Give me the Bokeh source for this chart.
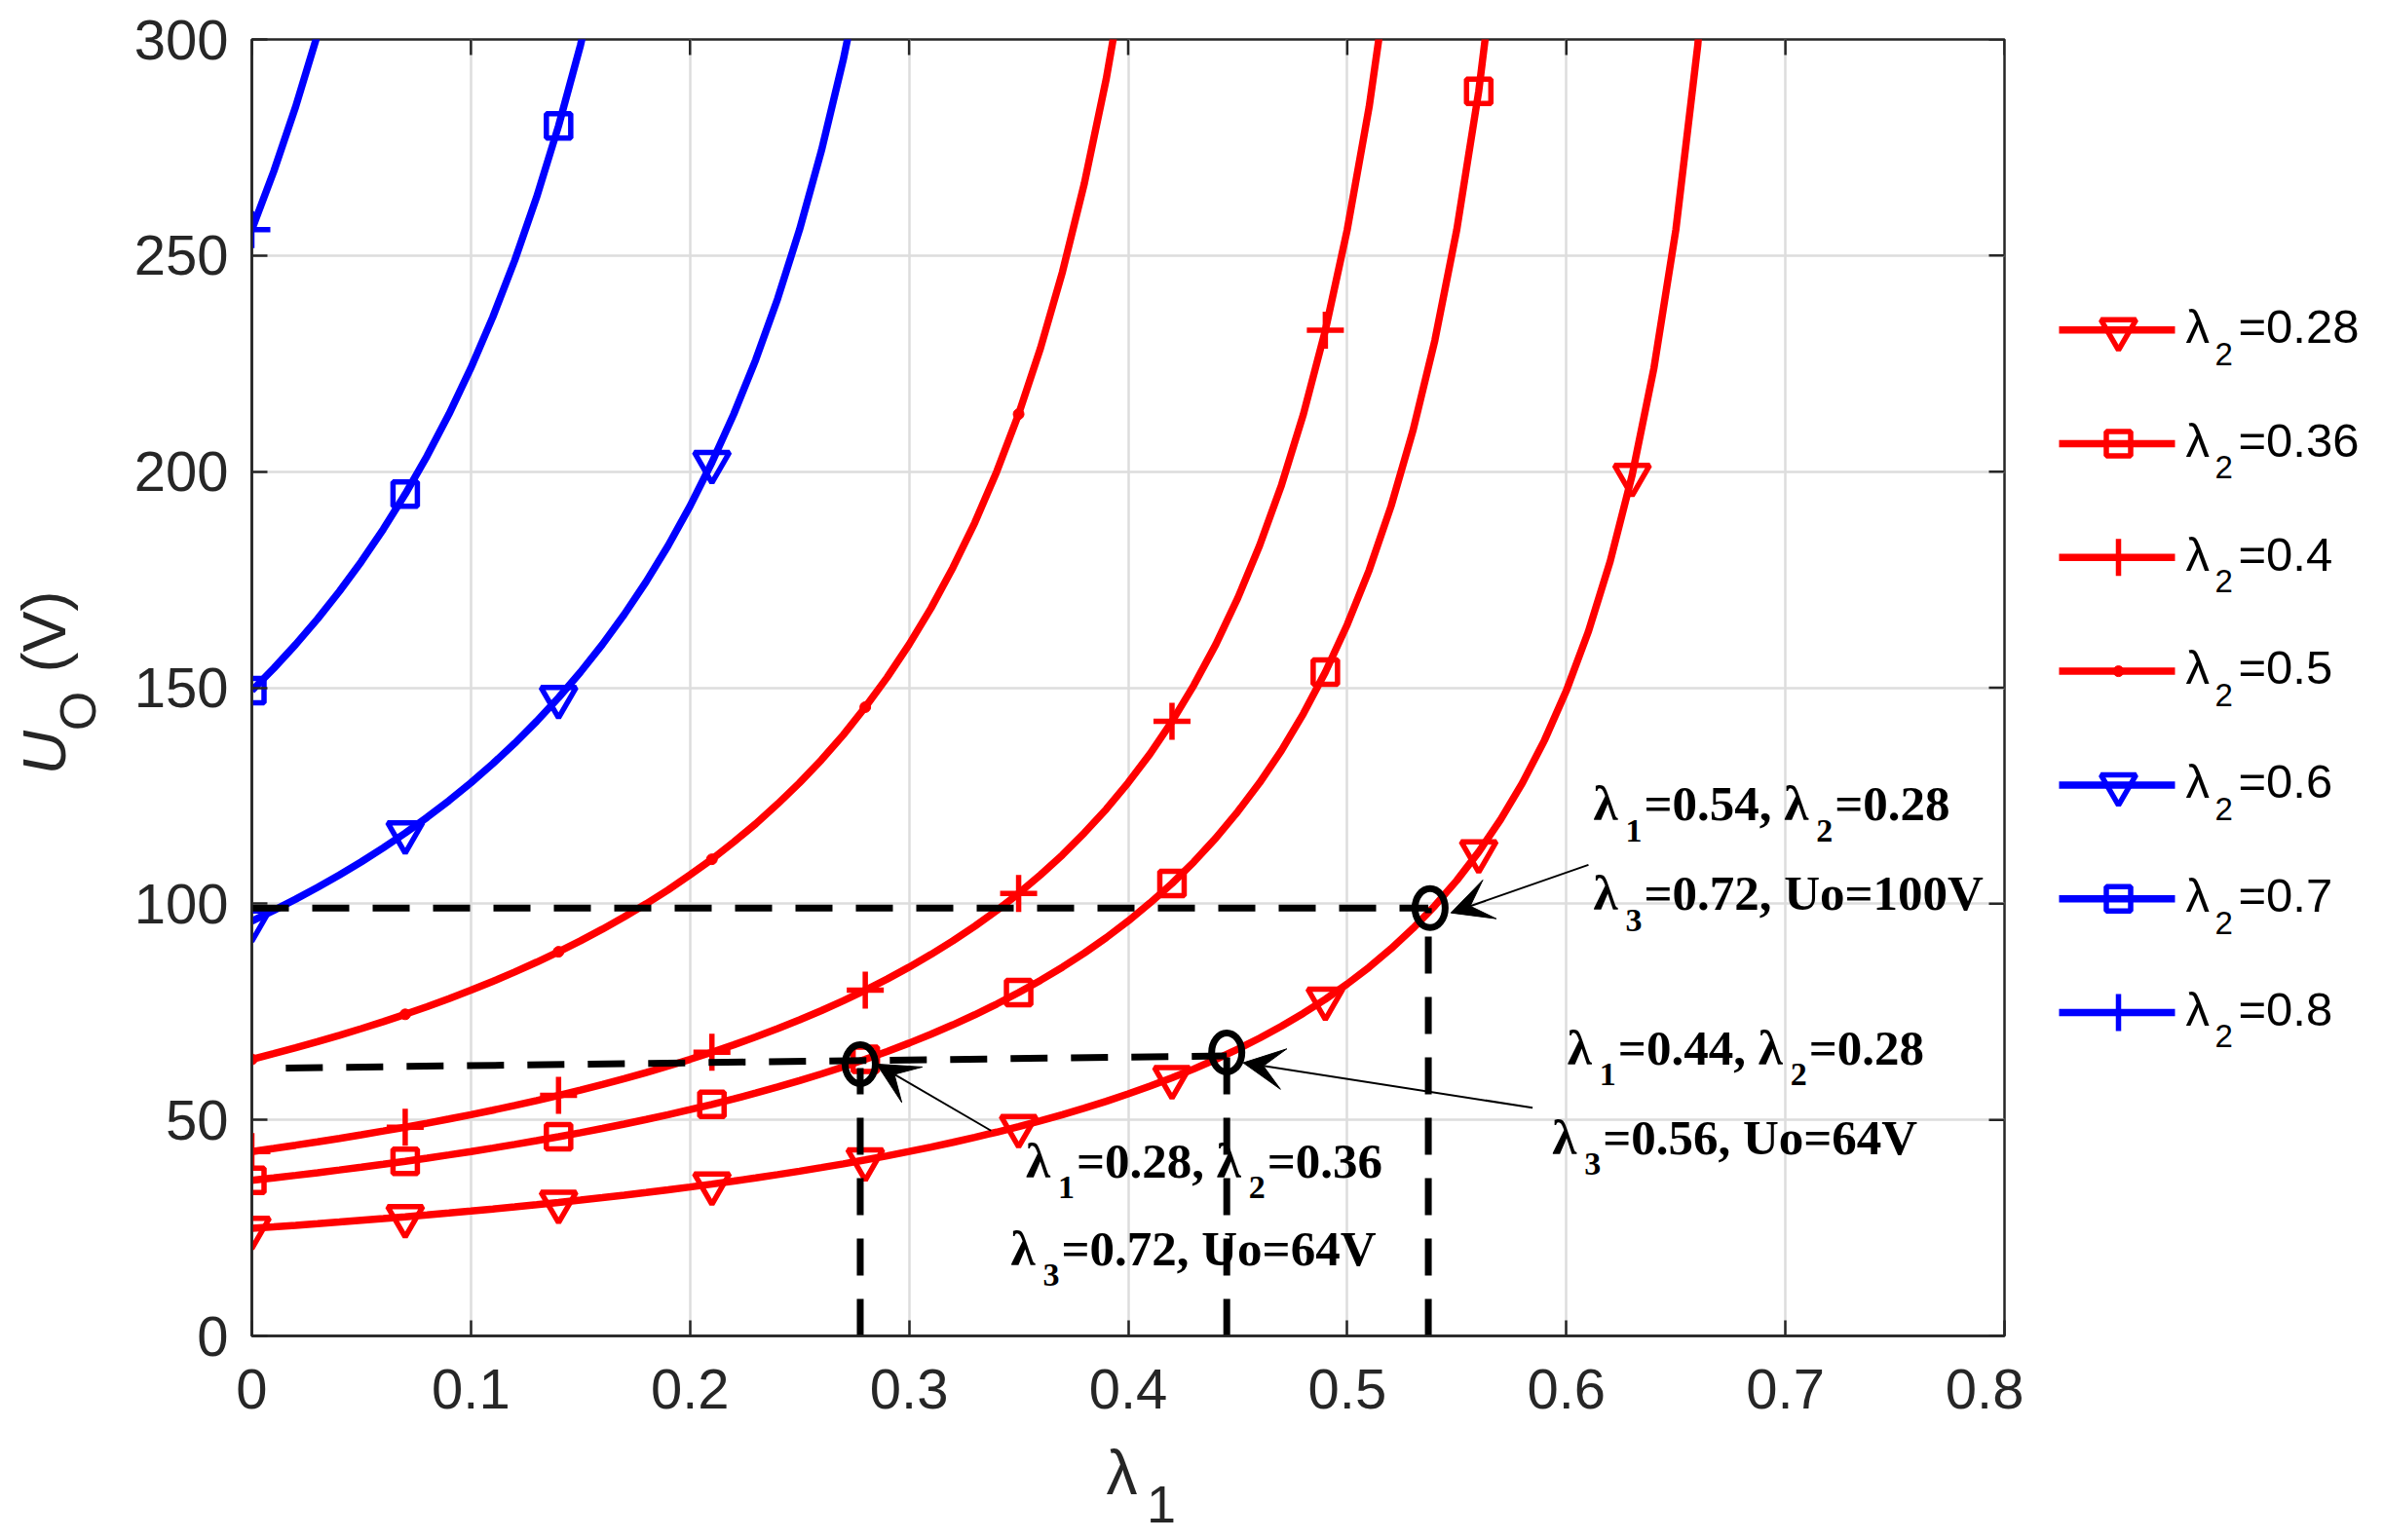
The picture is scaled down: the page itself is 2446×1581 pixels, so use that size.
import math
from bokeh.plotting import figure
from bokeh.models import (Range1d, FixedTicker, NumeralTickFormatter, Arrow, VeeHead,
                          ColumnDataSource)
from bokeh.layouts import gridplot
from bokeh.embed import file_html
from bokeh.resources import INLINE
from bokeh.core.properties import value

# ---------------- data ----------------
lam1 = [0.00, 0.01, 0.02, 0.03, 0.04, 0.05, 0.06, 0.07, 0.08, 0.09,
        0.10, 0.11, 0.12, 0.13, 0.14, 0.15, 0.16, 0.17, 0.18, 0.19,
        0.20, 0.21, 0.22, 0.23, 0.24, 0.25, 0.26, 0.27, 0.28, 0.29,
        0.30, 0.31, 0.32, 0.33, 0.34, 0.35, 0.36, 0.37, 0.38, 0.39,
        0.40, 0.41, 0.42, 0.43, 0.44, 0.45, 0.46, 0.47, 0.48, 0.49,
        0.50, 0.51, 0.52, 0.53, 0.54, 0.55, 0.56, 0.57, 0.58, 0.59,
        0.60, 0.61, 0.62, 0.63, 0.64, 0.65, 0.66, 0.67]

u_028 = [24.89, 25.24, 25.60, 25.97, 26.35, 26.75, 27.15, 27.57, 28.00, 28.44,
         28.90, 29.38, 29.87, 30.37, 30.90, 31.44, 32.00, 32.58, 33.19, 33.81,
         34.46, 35.14, 35.84, 36.57, 37.33, 38.13, 38.96, 39.82, 40.73, 41.67,
         42.67, 43.71, 44.80, 45.95, 47.16, 48.43, 49.78, 51.20, 52.71, 54.30,
         56.00, 57.81, 59.73, 61.79, 64.00, 66.37, 68.92, 71.68, 74.67, 77.91,
         81.45, 85.33, 89.60, 94.32, 99.56, 105.4, 112.0, 119.5, 128.0, 137.8,
         149.3, 162.9, 179.2, 199.1, 224.0, 256.0, 298.7, 358.4]
u_036 = [36.00, 36.57, 37.16, 37.77, 38.40, 39.05, 39.72, 40.42, 41.14, 41.89,
         42.67, 43.47, 44.31, 45.18, 46.08, 47.02, 48.00, 49.02, 50.09, 51.20,
         52.36, 53.58, 54.86, 56.20, 57.60, 59.08, 60.63, 62.27, 64.00, 65.83,
         67.76, 69.82, 72.00, 74.32, 76.80, 79.45, 82.29, 85.33, 88.62, 92.16,
         96.00, 100.2, 104.7, 109.7, 115.2, 121.3, 128.0, 135.5, 144.0, 153.6,
         164.6, 177.2, 192.0, 209.5, 230.4, 256.0, 288.0, 329.1]
u_040 = [42.67, 43.39, 44.14, 44.91, 45.71, 46.55, 47.41, 48.30, 49.23, 50.20,
         51.20, 52.24, 53.33, 54.47, 55.65, 56.89, 58.18, 59.53, 60.95, 62.44,
         64.00, 65.64, 67.37, 69.19, 71.11, 73.14, 75.29, 77.58, 80.00, 82.58,
         85.33, 88.28, 91.43, 94.81, 98.46, 102.4, 106.7, 111.3, 116.4, 121.9,
         128.0, 134.7, 142.2, 150.6, 160.0, 170.7, 182.9, 196.9, 213.3, 232.7,
         256.0, 284.4, 320.0]
u_050 = [64.00, 65.31, 66.67, 68.09, 69.57, 71.11, 72.73, 74.42, 76.19, 78.05,
         80.00, 82.05, 84.21, 86.49, 88.89, 91.43, 94.12, 96.97, 100.0, 103.2,
         106.7, 110.3, 114.3, 118.5, 123.1, 128.0, 133.3, 139.1, 145.5, 152.4,
         160.0, 168.4, 177.8, 188.2, 200.0, 213.3, 228.6, 246.2, 266.7, 290.9,
         320.0]
u_060 = [96.00, 98.46, 101.05, 103.78, 106.67, 109.71, 112.94, 116.36, 120.0, 123.87,
         128.0, 132.41, 137.14, 142.22, 147.69, 153.6, 160.0, 166.96, 174.55, 182.86,
         192.0, 202.11, 213.33, 225.88, 240.0, 256.0, 274.29, 295.38, 320.0]
u_070 = [149.33, 154.48, 160.0, 165.93, 172.31, 179.2, 186.67, 194.78, 203.64, 213.33,
         224.0, 235.79, 248.89, 263.53, 280.0, 298.67, 320.0]
u_080 = [256.0, 269.47, 284.44, 301.18]

mk_x = [0.00, 0.07, 0.14, 0.21, 0.28, 0.35, 0.42, 0.49, 0.56, 0.63]
mk_028 = [24.89, 27.57, 30.90, 35.14, 40.73, 48.43, 59.73, 77.91, 112.0, 199.1]
mk_036 = [36.00, 40.42, 46.08, 53.58, 64.00, 79.45, 104.7, 153.6, 288.0]
mk_040 = [42.67, 48.30, 55.65, 65.64, 80.00, 102.4, 142.2, 232.7]
mk_050 = [64.00, 74.42, 88.89, 110.3, 145.5, 213.3]
mk_060 = [96.00, 116.4, 147.7, 202.1]
mk_070 = [149.3, 194.8, 280.0]
mk_080 = [256.0]

series_names = ["0.28", "0.36", "0.4", "0.5", "0.6", "0.7", "0.8"]
series_lines = [u_028, u_036, u_040, u_050, u_060, u_070, u_080]
series_marks = [mk_028, mk_036, mk_040, mk_050, mk_060, mk_070, mk_080]
series_colors = ["#ff0000", "#ff0000", "#ff0000", "#ff0000", "#0000ff", "#0000ff", "#0000ff"]
series_markers = ["inverted_triangle", "square", "cross", "point",
                  "inverted_triangle", "square", "cross"]

# operating points (circles), guide lines and arrows
op_x = [0.2777, 0.445, 0.5378]
op_y = [62.9, 65.6, 99.0]
vguide_x = [0.2777, 0.445, 0.537]
vguide_top = [62.0, 65.0, 99.0]
hguide_x0 = [0.0, 0.0155]
hguide_x1 = [0.537, 0.445]
hguide_y0 = [99.0, 62.0]
hguide_y1 = [99.0, 64.8]
arrow_x0 = [0.3374, 0.5846, 0.6101]
arrow_y0 = [47.5, 52.8, 109.0]
arrow_x1 = [0.2852, 0.4525, 0.5473]
arrow_y1 = [62.9, 63.2, 97.9]

ann_segments = [
    [("λ", 0), ("1", 1), ("=0.28, ", 0), ("λ", 0), ("2", 1), ("=0.36", 0)],
    [("λ", 0), ("3", 1), ("=0.72, Uo=64V", 0)],
    [("λ", 0), ("1", 1), ("=0.54, ", 0), ("λ", 0), ("2", 1), ("=0.28", 0)],
    [("λ", 0), ("3", 1), ("=0.72, Uo=100V", 0)],
    [("λ", 0), ("1", 1), ("=0.44, ", 0), ("λ", 0), ("2", 1), ("=0.28", 0)],
    [("λ", 0), ("3", 1), ("=0.56, Uo=64V", 0)],
]
ann_x = [0.3533, 0.3464, 0.6123, 0.6123, 0.6005, 0.5935]
ann_y = [36.8, 16.6, 119.4, 98.7, 63.0, 42.3]

x_ticks = [0.0, 0.1, 0.2, 0.3, 0.4, 0.5, 0.6, 0.7, 0.8]
y_ticks = [0, 50, 100, 150, 200, 250, 300]

# ---------------- style / geometry ----------------
AX = "#262626"
SANS = "Liberation Sans"
SERIF = "Liberation Serif"
MK_SIZE = {"inverted_triangle": 36, "square": 25, "cross": 38, "point": 11}
LINE_W = 7.5
MK_LW = 5.5
BASE_FIX = 0.32          # baseline correction (fraction of font size)
B_LEFT, B_RIGHT, B_TOP, B_BOTTOM = 130, 20, 40, 102
FRAME_W, FRAME_H = 1799, 1331
MAIN_W = B_LEFT + FRAME_W + B_RIGHT
MAIN_H = B_TOP + FRAME_H + B_BOTTOM
YLAB_W, LEG_W = 128, 353
XLAB_H = 1580 - MAIN_H


def plain_fig(**kw):
    f = figure(output_backend="svg", toolbar_location=None, x_axis_type=None,
               y_axis_type=None, **kw)
    f.outline_line_color = None
    f.background_fill_color = "white"
    f.border_fill_color = "white"
    return f


# ---------------- main plot ----------------
p = figure(width=MAIN_W, height=MAIN_H, x_range=Range1d(0, 0.8), y_range=Range1d(0, 300),
           output_backend="svg", toolbar_location=None,
           min_border_left=B_LEFT, min_border_right=B_RIGHT,
           min_border_top=B_TOP, min_border_bottom=B_BOTTOM)
p.background_fill_color = "white"
p.border_fill_color = "white"
p.outline_line_color = AX
p.outline_line_width = 2.5

for ax, ticks in ((p.xaxis[0], x_ticks), (p.yaxis[0], y_ticks)):
    ax.axis_label = None
    ax.ticker = FixedTicker(ticks=ticks)
    ax.major_label_text_font = SANS
    ax.major_label_text_font_size = "58px"
    ax.major_label_text_color = AX
    ax.major_tick_in = 16
    ax.major_tick_out = 0
    ax.major_tick_line_width = 2.5
    ax.major_tick_line_color = AX
    ax.minor_tick_line_color = None
    ax.axis_line_color = AX
    ax.axis_line_width = 2.5
p.xaxis[0].formatter = NumeralTickFormatter(format="0.[0]")
p.xaxis[0].major_label_standoff = 34
p.yaxis[0].major_label_standoff = 24

p.xgrid.ticker = FixedTicker(ticks=x_ticks)
p.ygrid.ticker = FixedTicker(ticks=y_ticks)
for g in (p.xgrid, p.ygrid):
    g.grid_line_color = "#dddddd"
    g.grid_line_width = 2.5

# inward ticks on the top and right edges of the box
p.ray(x=x_ticks, y=[300] * len(x_ticks), length=16, length_units="screen",
      angle=-math.pi / 2, line_color=AX, line_width=2.5)
p.ray(x=[0.8] * len(y_ticks), y=y_ticks, length=16, length_units="screen",
      angle=math.pi, line_color=AX, line_width=2.5)


def draw_marker(fig, xs, ys, mk, col):
    if mk == "point":
        fig.scatter(xs, ys, marker="circle", size=MK_SIZE[mk], line_color=col,
                    fill_color=col, line_width=1)
    else:
        fig.scatter(xs, ys, marker=mk, size=MK_SIZE[mk], line_color=col,
                    fill_color=None, line_width=MK_LW)


for ys, ms, col, mk in zip(series_lines, series_marks, series_colors, series_markers):
    p.line(lam1[:len(ys)], ys, line_color=col, line_width=LINE_W)
    draw_marker(p, mk_x[:len(ms)], ms, mk, col)

# dashed guides
p.multi_line(xs=[[x, x] for x in vguide_x], ys=[[0, t] for t in vguide_top],
             line_color="black", line_width=7, line_dash="38 24")
p.multi_line(xs=[[a, b] for a, b in zip(hguide_x0, hguide_x1)],
             ys=[[a, b] for a, b in zip(hguide_y0, hguide_y1)],
             line_color="black", line_width=7, line_dash="38 24")

# operating point circles
p.ellipse(x=op_x, y=op_y, width=31, height=40, width_units="screen",
          height_units="screen", fill_color=None, line_color="black", line_width=7)

# arrows
for x0, y0, x1, y1 in zip(arrow_x0, arrow_y0, arrow_x1, arrow_y1):
    p.add_layout(Arrow(x_start=x0, y_start=y0, x_end=x1, y_end=y1, line_width=2,
                       line_color="black",
                       end=VeeHead(size=42, fill_color="black", line_color="black",
                                   line_width=1)))

# annotation texts with subscripts
FS, SUBFS = 51, 34
W = {'0': .5, '1': .5, '2': .5, '3': .5, '4': .5, '5': .5, '6': .5, '7': .5, '8': .5,
     '9': .5, '=': .57, '.': .25, ',': .25, ' ': .25, 'U': .722, 'o': .5, 'V': .722}
main_d = dict(x=[], y=[], t=[], xo=[], yo=[])
sub_d = dict(x=[], y=[], t=[], xo=[], yo=[])
for segs, x0, y0 in zip(ann_segments, ann_x, ann_y):
    off = 0.0
    for txt, is_sub in segs:
        d = sub_d if is_sub else main_d
        d["x"].append(x0); d["y"].append(y0); d["t"].append(txt)
        if is_sub:
            d["yo"].append(22 - BASE_FIX * SUBFS)
        else:
            d["yo"].append(-BASE_FIX * FS)
        d["xo"].append(off)
        if txt == "λ":
            off += 33
        elif is_sub:
            off += 19
        else:
            off += sum(W[c] for c in txt) * FS
for d, fs in ((main_d, FS), (sub_d, SUBFS)):
    p.text(x="x", y="y", text="t", x_offset="xo", y_offset="yo",
           source=ColumnDataSource(d), text_font=value(SERIF), text_font_style="bold",
           text_font_size=f"{fs}px", text_color="black", text_baseline="alphabetic",
           text_align="left")

# ---------------- y-axis label panel ----------------
ylab = plain_fig(width=YLAB_W, height=MAIN_H, x_range=Range1d(0, YLAB_W),
                 y_range=Range1d(0, 300), min_border_left=0, min_border_right=0,
                 min_border_top=B_TOP, min_border_bottom=B_BOTTOM)
ylab.text(x=[67 - 0.36 * 63], y=[129.8], text=["U"], angle=math.pi / 2,
          text_font=value(SANS), text_font_style="italic", text_font_size="63px",
          text_color=AX, text_baseline="alphabetic", text_align="left")
ylab.text(x=[98 - 0.36 * 52], y=[140.0], text=["O"], angle=math.pi / 2,
          text_font=value(SANS), text_font_size="52px", text_color=AX,
          text_baseline="alphabetic", text_align="left")
ylab.text(x=[67 - 0.36 * 63], y=[153.5], text=["(V)"], angle=math.pi / 2,
          text_font=value(SANS), text_font_size="63px", text_color=AX,
          text_baseline="alphabetic", text_align="left")

# ---------------- x-axis label panel ----------------
xlab = plain_fig(width=MAIN_W, height=XLAB_H, x_range=Range1d(0, 0.8),
                 y_range=Range1d(MAIN_H + XLAB_H, MAIN_H),
                 min_border_left=B_LEFT, min_border_right=B_RIGHT,
                 min_border_top=0, min_border_bottom=0)
xlab.text(x=[0.390], y=[1531.7 - BASE_FIX * 64], text=["λ"], text_font=value(SANS),
          text_font_size="64px", text_color=AX, text_baseline="alphabetic",
          text_align="left")
xlab.text(x=[0.4084], y=[1561.7 - BASE_FIX * 54], text=["1"], text_font=value(SANS),
          text_font_size="54px", text_color=AX, text_baseline="alphabetic",
          text_align="left")

# ---------------- legend panel ----------------
leg = plain_fig(width=LEG_W, height=MAIN_H, x_range=Range1d(0, LEG_W),
                y_range=Range1d(0, 300), min_border_left=0, min_border_right=0,
                min_border_top=B_TOP, min_border_bottom=B_BOTTOM)
row_y = [232.8 - 26.33 * i for i in range(len(series_names))]
for yy, col, mk in zip(row_y, series_colors, series_markers):
    leg.line([36, 155], [yy, yy], line_color=col, line_width=LINE_W)
    draw_marker(leg, [97], [yy], mk, col)
n = len(series_names)
leg.text(x=[166] * n, y=row_y, text=["λ"] * n, y_offset=12 - BASE_FIX * 49,
         text_font=value(SANS), text_font_size="49px", text_color="black",
         text_baseline="alphabetic", text_align="left")
leg.text(x=[196] * n, y=row_y, text=["2"] * n, y_offset=35 - BASE_FIX * 33,
         text_font=value(SANS), text_font_size="33px", text_color="black",
         text_baseline="alphabetic", text_align="left")
leg.text(x=[220] * n, y=row_y, text=["=" + s for s in series_names],
         y_offset=12 - BASE_FIX * 49,
         text_font=value(SANS), text_font_size="49px", text_color="black",
         text_baseline="alphabetic", text_align="left")

layout = gridplot([[ylab, p, leg], [None, xlab, None]], toolbar_location=None)
open("out.html", "w").write(file_html(layout, INLINE))
